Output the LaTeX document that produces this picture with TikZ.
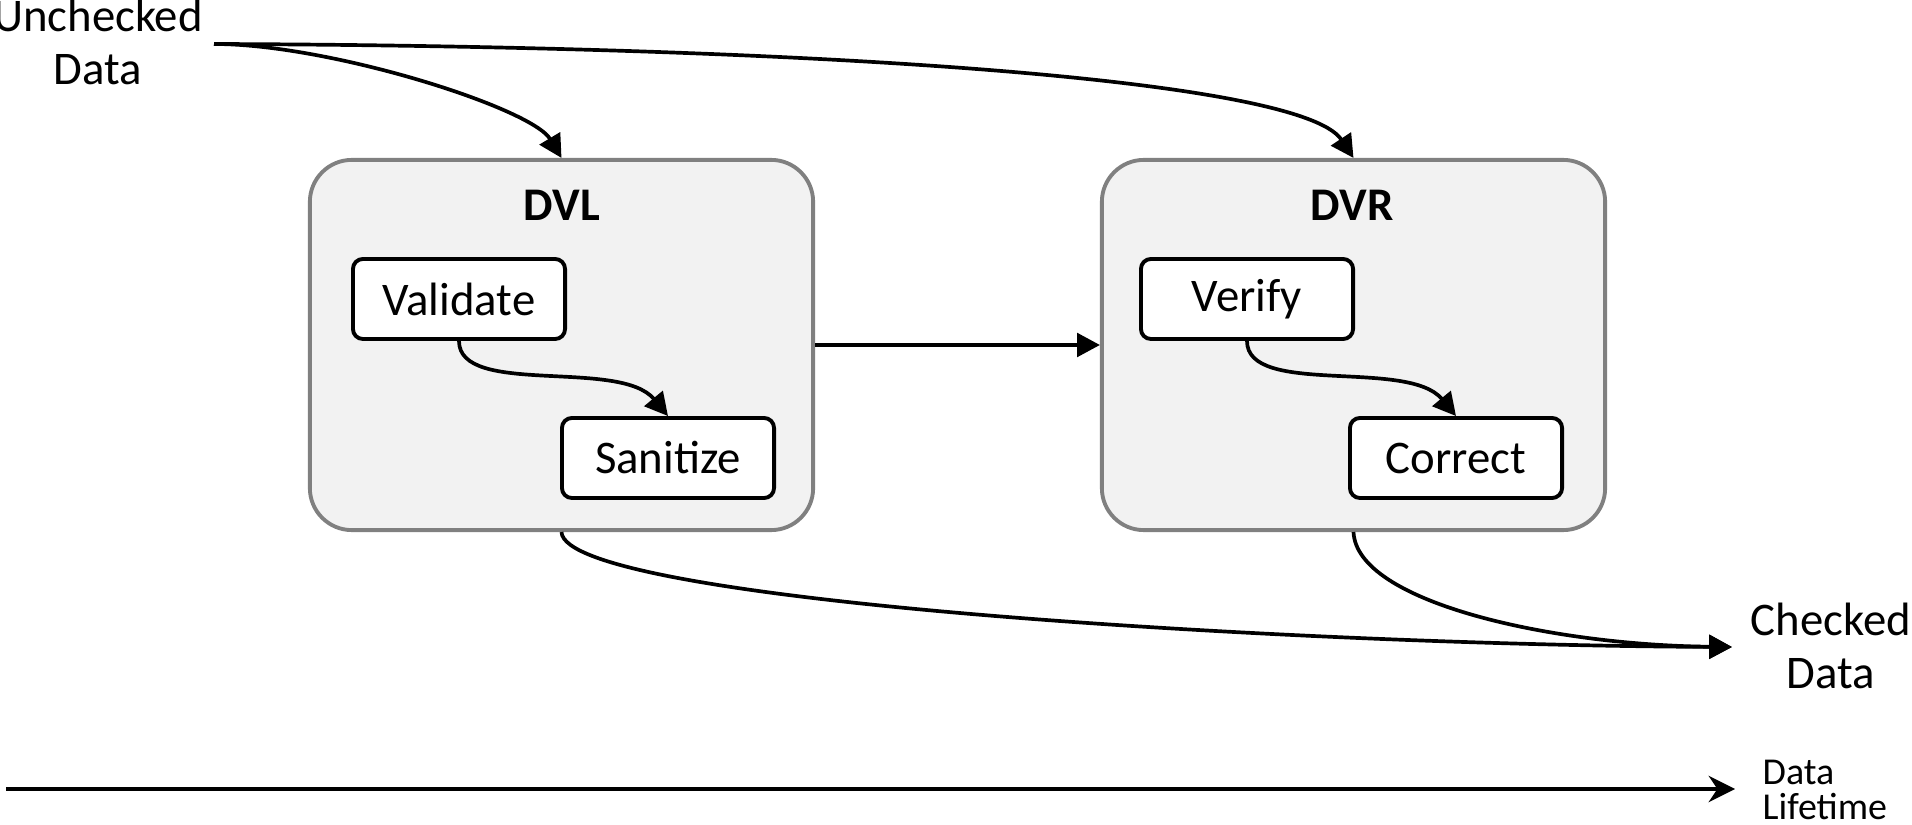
\documentclass[tikz,border=0pt]{standalone}
\usepackage{fontspec}
\setmainfont{Carlito}
\usetikzlibrary{arrows.meta}

\begin{document}
\begin{tikzpicture}[x=0.01cm, y=-0.01cm,
    stage/.style={draw=black!50, fill=black!5, line width=1.1pt, rounded corners=0.42cm,
      minimum width=5.03cm, minimum height=3.7cm},
    task/.style={draw, fill=white, line width=1.1pt, rounded corners=0.1cm,
      minimum width=2.12cm, minimum height=0.8cm, font=\fontsize{13.3}{15}\selectfont},
    link/.style={line width=1.05pt, -{Triangle[length=6.5pt,width=6.7pt]}},
    datatext/.style={align=center, inner sep=0pt, font=\fontsize{13.3}{15}\selectfont}]
    \useasboundingbox (0,0) rectangle (1912,825);
    % the two stages
    \node[stage] (dvl) at (561.5,345) {};
    \node[stage] (dvr) at (1353.5,345) {};
    \node[font=\bfseries\fontsize{13.3}{15}\selectfont] (dvltitle) at (562,205) {DVL};
    \node[font=\bfseries\fontsize{13.3}{15}\selectfont] (dvrtitle) at (1352,205) {DVR};
    \node[task] (validate) at (459,299) {Validate};
    \node[task] (sanitize) at (668,458) {Sanitize};
    \node[task] (verify) at (1247,299) {Verify};
    \node[task] (correct) at (1456,458) {Correct};
    \draw[link] (validate.south) .. controls +(0,56) and +(-48,-58) .. (sanitize.north);
    \draw[link] (verify.south) .. controls +(0,56) and +(-48,-58) .. (correct.north);
    \draw[link] (dvl.east) -- (dvr.west);
    % data in and out
    \node[datatext] (unchecked) at (98,42) {Unchecked\\Data};
    \node[datatext] (checked) at (1831,646) {Checked\\Data};
    \coordinate (src) at (214,44);
    \coordinate (sink) at (1732,647);
    \draw[link] (src) .. controls +(116,0) and +(-30,-50) .. (dvl.north);
    \draw[link] (src) .. controls +(586,2) and +(-53,-80) .. (dvr.north);
    \draw[link] (dvl.south) .. controls +(3,70) and +(-432,-2) .. (sink);
    \draw[link] (dvr.south) .. controls +(3,70) and +(-182,-2) .. (sink);
    % time axis
    \coordinate (born) at (6,789);
    \coordinate (dies) at (1735,789);
    \draw[line width=1.05pt, -{Stealth[length=7.5pt,width=7.5pt,inset=2.5pt]}] (born) -- (dies);
    \node[anchor=west, align=left, inner sep=0pt, font=\fontsize{10.8}{10}\selectfont] (lifetime) at (1762,790) {Data\\Lifetime};
\end{tikzpicture}
\end{document}
